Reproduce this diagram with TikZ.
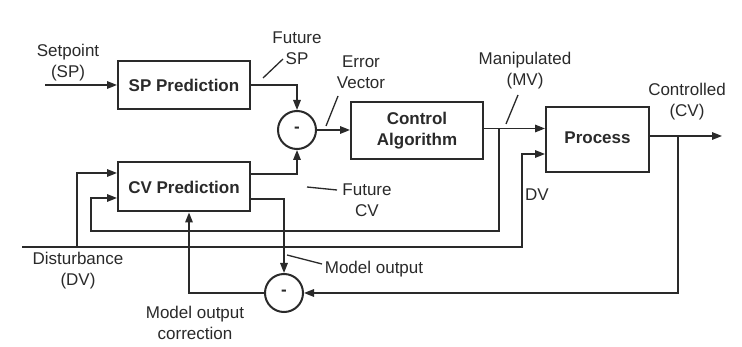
\documentclass[tikz,border=0pt]{standalone}
\usepackage{fontspec}
\setmainfont{Liberation Sans}
\usetikzlibrary{arrows.meta}
\definecolor{ink}{HTML}{2A2A2A}
\begin{document}
\begin{tikzpicture}[x=1pt,y=-1pt,
  font=\fontsize{17}{21}\selectfont,
  blk/.style={draw=ink, line width=2pt, inner sep=0pt, text=ink,
    font=\fontsize{17}{21}\selectfont\bfseries, align=center},
  sumnode/.style={circle, draw=ink, line width=2pt, minimum size=38pt,
    inner sep=0pt, text=ink, font=\fontsize{17}{21}\selectfont\bfseries},
  conn/.style={draw=ink, line width=1.6pt},
  arr/.style={conn, -{Triangle[length=10pt,width=7.5pt]}},
  lbl/.style={align=center, text=ink, inner sep=0pt},
  lead/.style={draw=ink, line width=1.3pt}]
\useasboundingbox[fill=white] (0,0) rectangle (742,347);

% blocks
\node[blk, minimum width=132pt, minimum height=48pt] (sp) at (184,85) {SP Prediction};
\node[blk, minimum width=132pt, minimum height=49pt] (cv) at (184,187) {CV Prediction};
\node[blk, minimum width=132pt, minimum height=57pt] (ctrl) at (417,130.5) {Control\\Algorithm};
\node[blk, minimum width=103pt, minimum height=65pt] (proc) at (597.5,139.5) {\raisebox{3pt}{Process}};
\node[sumnode] (s1) at (297,130) {-};
\node[sumnode] (s2) at (284,293) {-};

% free ends and branch points
\coordinate (spin) at (45,85);
\coordinate (dvin) at (22,247);
\coordinate (dvc) at (522,154);
\coordinate (dvb) at (77,247);
\coordinate (mvb) at (499,128.5);
\coordinate (cvout) at (722,136);
\coordinate (cvb) at (678,136);

% connectors
\draw[arr] (spin) -- (sp.west);
\draw[arr] (sp.east) -| (s1.north);
\draw[arr] ([yshift=13pt]cv.east) -| (s1.south);
\draw[arr] ([yshift=-12pt]cv.east) -| (s2.north);
\draw[arr] (s1.east) -- (s1.east -| ctrl.west);
\draw[arr] ([yshift=2pt]ctrl.east) -- ([yshift=2pt]ctrl.east -| proc.west);
\draw[arr] (mvb) |- (91,231) |- ([yshift=-11pt]cv.west);
\draw[arr] (dvin) -| (dvc) -- (dvc -| proc.west);
\draw[arr] (dvb) |- ([yshift=14pt]cv.west);
\draw[arr] (cvout -| proc.east) -- (cvout);
\draw[arr] (cvb) |- (s2.east);
\draw[arr] (s2.west) -| ([xshift=5pt]cv.south);

% labels
\node[lbl] (tsp) at (68,63) {Setpoint\\(SP)};
\node[lbl] (tfsp) at (297,48) {Future\\SP};
\node[lbl] (tev) at (361,72) {Error\\Vector};
\node[lbl] (tmv) at (525,71) {Manipulated\\(MV)};
\node[lbl] (tcv) at (687,102) {Controlled\\(CV)};
\node[lbl] (tfcv) at (367,200) {Future\\CV};
\node[lbl] (tdv) at (537,195) {DV};
\node[lbl] (tmo) at (374,269) {Model output};
\node[lbl] (tmoc) at (195,323) {Model output\\correction};
\node[lbl] (tdist) at (78,271) {Disturbance\\(DV)};

% leader lines
\draw[lead] (263,78) -- (283,59);
\draw[lead] (326,126) -- (338,96);
\draw[lead] (506,124) -- (518,95);
\draw[lead] (307,187) -- (337,190);
\draw[lead] (287,255) -- (322,264);
\end{tikzpicture}
\end{document}
